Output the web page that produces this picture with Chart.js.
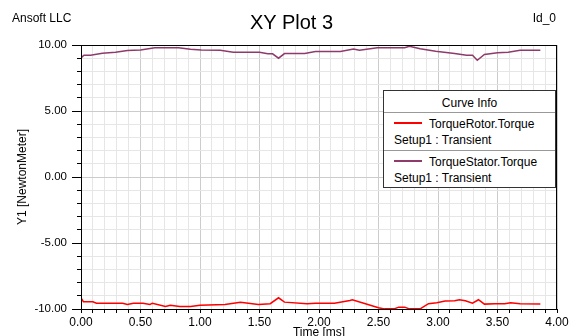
<!DOCTYPE html>
<html><head><meta charset="utf-8">
<script src="https://cdn.jsdelivr.net/npm/chart.js@4/dist/chart.umd.min.js"></script>
<style>
html,body{margin:0;padding:0;background:#fff;}
#wrap{position:relative;width:572px;height:336px;overflow:hidden;font-family:"Liberation Sans",Arial,sans-serif;color:#000;}
#c{position:absolute;left:0;top:0;}
.t{position:absolute;white-space:nowrap;line-height:1;}
#legend{position:absolute;left:383px;top:90px;width:173px;height:98px;box-sizing:border-box;border:1.5px solid #333;background:#fff;font-size:12px;}
#legend .row{position:absolute;left:0;right:0;}
#legend .sep{position:absolute;left:0;right:0;height:0;border-top:1px solid #999;}
#legend .sw{position:absolute;left:10px;width:28px;height:0;border-top:2px solid;}
</style></head>
<body>
<div id="wrap">
<canvas id="c" width="572" height="336" style="width:572px;height:336px"></canvas>
<div class="t" style="left:12px;top:12px;font-size:12px;">Ansoft LLC</div>
<div class="t" style="left:250px;top:12px;font-size:20px;">XY Plot 3</div>
<div class="t" style="right:16px;top:12px;font-size:12px;">Id_0</div>
<div class="t" style="left:22px;top:177px;font-size:12px;transform:translate(-50%,-50%) rotate(-90deg);">Y1 [NewtonMeter]</div>
<div class="t" style="left:319px;top:326px;font-size:12px;transform:translateX(-50%);">Time [ms]</div>
<div id="legend">
  <div class="row" style="top:5px;text-align:center;">Curve Info</div>
  <div class="sep" style="top:21px;"></div>
  <div class="sw" style="top:31px;border-color:#ff0000;"></div>
  <div class="row" style="top:26px;left:45px;">TorqueRotor.Torque</div>
  <div class="row" style="top:42px;left:10px;">Setup1 : Transient</div>
  <div class="sep" style="top:59px;"></div>
  <div class="sw" style="top:69px;border-color:#8e3b6b;"></div>
  <div class="row" style="top:64px;left:45px;">TorqueStator.Torque</div>
  <div class="row" style="top:80px;left:10px;">Setup1 : Transient</div>
</div>
</div>
<script>
const seriesNames = ['TorqueRotor.Torque', 'TorqueStator.Torque'];

const statorTime = [0.00,0.025,0.08,0.18,0.29,0.39,0.50,0.62,0.82,0.92,1.01,1.17,1.28,1.50,1.57,1.61,1.66,1.71,1.88,1.97,2.18,2.29,2.34,2.49,2.72,2.76,2.85,2.98,3.14,3.24,3.29,3.33,3.39,3.50,3.59,3.69,3.86];
const statorTorque = [9.03,9.22,9.22,9.38,9.45,9.58,9.62,9.79,9.79,9.68,9.63,9.60,9.45,9.45,9.33,9.33,9.00,9.35,9.35,9.50,9.50,9.70,9.60,9.79,9.79,9.91,9.71,9.53,9.35,9.22,9.22,8.84,9.28,9.41,9.45,9.60,9.60];

const rotorTime = [0.00,0.02,0.10,0.13,0.35,0.39,0.44,0.52,0.58,0.60,0.71,0.75,0.83,0.92,1.00,1.21,1.34,1.49,1.59,1.66,1.71,1.90,1.97,2.13,2.26,2.28,2.39,2.50,2.55,2.63,2.67,2.72,2.76,2.85,2.92,2.99,3.06,3.14,3.18,3.23,3.29,3.34,3.39,3.48,3.56,3.61,3.69,3.86];
const rotorTorque = [-9.15,-9.45,-9.45,-9.56,-9.56,-9.66,-9.56,-9.56,-9.66,-9.56,-9.81,-9.72,-9.81,-9.81,-9.72,-9.66,-9.48,-9.66,-9.60,-9.15,-9.48,-9.60,-9.56,-9.56,-9.35,-9.30,-9.60,-9.91,-9.99,-9.99,-9.86,-9.86,-9.99,-9.99,-9.60,-9.52,-9.40,-9.38,-9.30,-9.38,-9.56,-9.30,-9.63,-9.60,-9.60,-9.52,-9.60,-9.63];

const xMin = 0, xMax = 4, xStep = 0.1, xMajor = 0.5;
const yMin = -10, yMax = 10, yStep = 1, yMajor = 5;

function pts(xs, ys){ return xs.map((x,i)=>({x:x, y:ys[i]})); }
function isMajor(v, m){ const r = v/m; return Math.abs(r - Math.round(r)) < 1e-6; }

const framePlugin = {
  id: 'frame',
  afterDraw(chart){
    const {ctx, chartArea:a, scales} = chart;
    ctx.save();
    ctx.strokeStyle = '#000';
    ctx.lineWidth = 1;
    ctx.strokeRect(a.left+0.5, a.top+0.5, a.right-a.left-1, a.bottom-a.top);
    ctx.beginPath();
    for (let v = yMin; v <= yMax + 1e-9; v += yMajor) {
      const y = Math.round(scales.y.getPixelForValue(v)) + 0.5;
      ctx.moveTo(a.left - 9, y); ctx.lineTo(a.left, y);
    }
    ctx.stroke();
    ctx.restore();
  }
};

new Chart(document.getElementById('c'), {
  type: 'scatter',
  data: {
    datasets: [
      { label: seriesNames[0], data: pts(rotorTime, rotorTorque), showLine: true, borderColor: '#ff0000', borderWidth: 1.5, pointRadius: 0, tension: 0 },
      { label: seriesNames[1], data: pts(statorTime, statorTorque), showLine: true, borderColor: '#8e3b6b', borderWidth: 1.5, pointRadius: 0, tension: 0 }
    ]
  },
  options: {
    responsive: false,
    animation: false,
    layout: { padding: { left: 0, right: 15, top: 45, bottom: 0 } },
    plugins: { legend: { display: false }, title: { display: false }, tooltip: { enabled: false } },
    scales: {
      x: {
        type: 'linear', min: xMin, max: xMax,
        afterFit(s){ s.height = 27; },
        grid: {
          color: c => isMajor(c.tick.value, xMajor) ? '#cccccc' : '#e6e6e6',
          tickColor: '#000', tickLength: 4, lineWidth: 1
        },
        border: { display: true, color: '#000', width: 1 },
        ticks: {
          stepSize: xStep, maxTicksLimit: 100, autoSkip: false, maxRotation: 0, padding: 2,
          color: '#000', font: { family: '"Liberation Sans", Arial, sans-serif', size: 12 },
          callback: v => isMajor(v, xMajor) ? v.toFixed(2) : ''
        }
      },
      y: {
        type: 'linear', min: yMin, max: yMax,
        afterFit(s){ s.width = 81; },
        grid: {
          color: c => isMajor(c.tick.value, yMajor) ? '#cccccc' : '#e6e6e6',
          tickColor: '#000', tickLength: 4, lineWidth: 1
        },
        border: { display: true, color: '#000', width: 1 },
        ticks: {
          stepSize: yStep, maxTicksLimit: 100, autoSkip: false, padding: 10,
          color: '#000', font: { family: '"Liberation Sans", Arial, sans-serif', size: 11.5 },
          callback: v => isMajor(v, yMajor) ? v.toFixed(2) : ''
        }
      }
    }
  },
  plugins: [framePlugin]
});
</script>
</body></html>
